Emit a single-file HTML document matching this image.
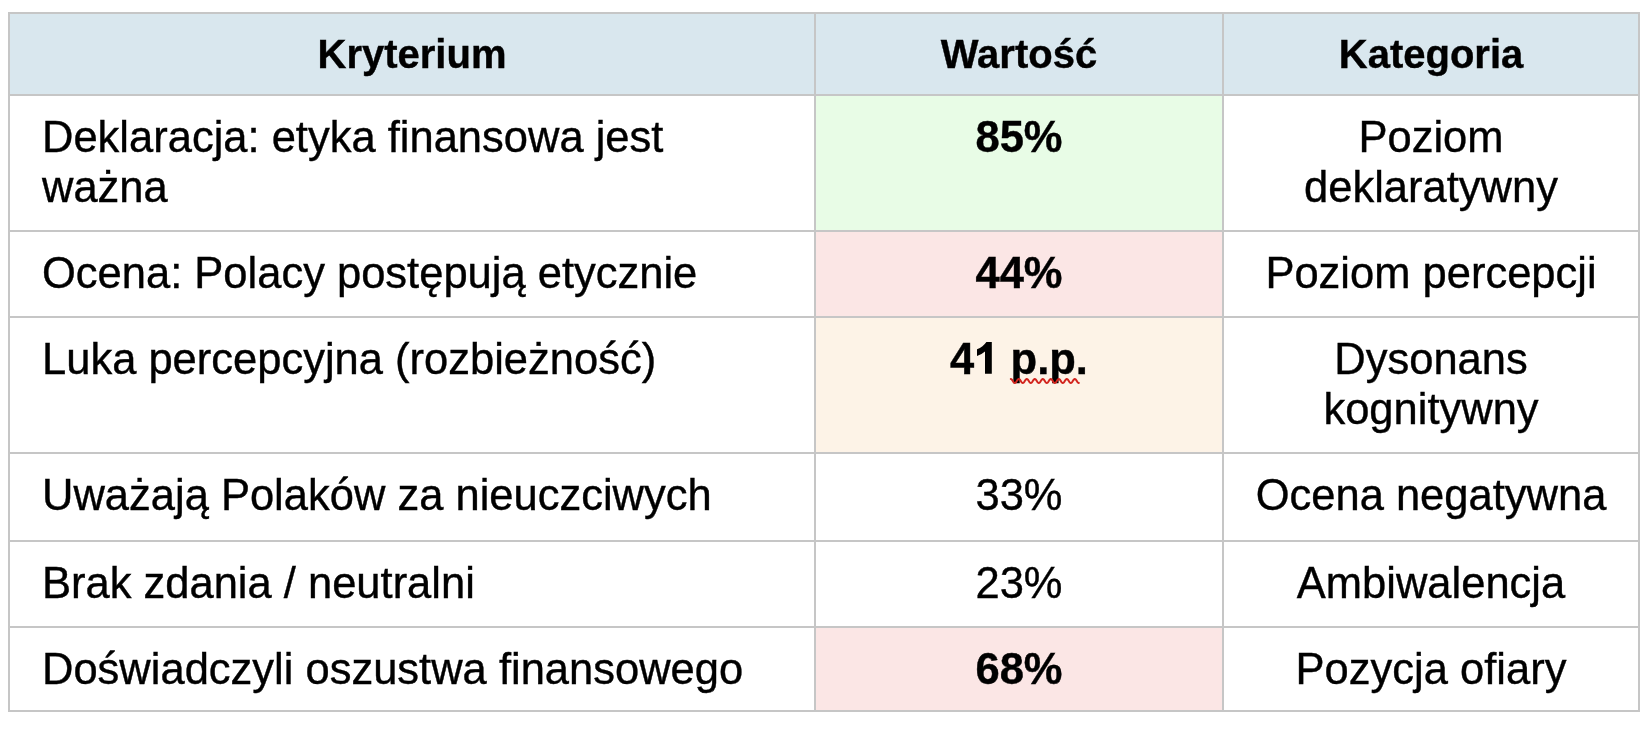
<!DOCTYPE html>
<html><head><meta charset="utf-8"><title>Tabela</title>
<style>
html,body{margin:0;padding:0;background:#fff;}
body{width:1651px;height:732px;position:relative;overflow:hidden;font-family:"Liberation Sans",sans-serif;color:#000;}
.frame{position:absolute;left:8px;top:12px;width:1632px;height:700px;background:#c6c6c6;}
.c{position:absolute;}
.t{position:absolute;white-space:nowrap;will-change:transform;-webkit-text-stroke:0.4px #000;font-size:43.5px;line-height:50px;}
.h{font-size:40px;line-height:46px;font-weight:bold;}
.b{font-weight:bold;}
.ctr{text-align:center;}
.hid{color:transparent;-webkit-text-stroke-color:transparent;}
</style></head><body>
<div class="frame"></div>

<div class="c" style="left:10px;top:14px;width:804px;height:80px;background:#d9e7ee"></div>
<div class="c" style="left:816px;top:14px;width:406px;height:80px;background:#d9e7ee"></div>
<div class="c" style="left:1224px;top:14px;width:414px;height:80px;background:#d9e7ee"></div>
<div class="t h ctr" style="left:10px;width:804px;top:31.0px">Kryterium</div>
<div class="t h ctr" style="left:816px;width:406px;top:31.0px">Wartość</div>
<div class="t h ctr" style="left:1224px;width:414px;top:31.0px">Kategoria</div>
<div class="c" style="left:10px;top:96px;width:804px;height:134px;background:#fff"></div>
<div class="c" style="left:816px;top:96px;width:406px;height:134px;background:#e8fce6"></div>
<div class="c" style="left:1224px;top:96px;width:414px;height:134px;background:#fff"></div>
<div class="t" style="left:42.0px;top:112.0px">Deklaracja: etyka finansowa jest<br>ważna</div>
<div class="t b ctr" style="left:816px;width:406px;top:112.0px">85%</div>
<div class="t ctr" style="left:1224px;width:414px;top:112.0px">Poziom<br>deklaratywny</div>
<div class="c" style="left:10px;top:232px;width:804px;height:84px;background:#fff"></div>
<div class="c" style="left:816px;top:232px;width:406px;height:84px;background:#fbe6e5"></div>
<div class="c" style="left:1224px;top:232px;width:414px;height:84px;background:#fff"></div>
<div class="t" style="left:42.0px;top:248.0px">Ocena: Polacy postępują etycznie</div>
<div class="t b ctr" style="left:816px;width:406px;top:248.0px">44%</div>
<div class="t ctr" style="left:1224px;width:414px;top:248.0px">Poziom percepcji</div>
<div class="c" style="left:10px;top:318px;width:804px;height:134px;background:#fff"></div>
<div class="c" style="left:816px;top:318px;width:406px;height:134px;background:#fdf3e7"></div>
<div class="c" style="left:1224px;top:318px;width:414px;height:134px;background:#fff"></div>
<div class="t" style="left:42.0px;top:334.0px">Luka percepcyjna (rozbieżność)</div>
<div class="t b ctr" style="left:816px;width:406px;top:334.0px">4<span class="hid">1</span> p.p.</div>
<div class="t ctr" style="left:1224px;width:414px;top:334.0px">Dysonans<br>kognitywny</div>
<div class="c" style="left:10px;top:454px;width:804px;height:86px;background:#fff"></div>
<div class="c" style="left:816px;top:454px;width:406px;height:86px;background:#fff"></div>
<div class="c" style="left:1224px;top:454px;width:414px;height:86px;background:#fff"></div>
<div class="t" style="left:42.0px;top:470.0px">Uważają Polaków za nieuczciwych</div>
<div class="t ctr" style="left:816px;width:406px;top:470.0px">33%</div>
<div class="t ctr" style="left:1224px;width:414px;top:470.0px">Ocena negatywna</div>
<div class="c" style="left:10px;top:542px;width:804px;height:84px;background:#fff"></div>
<div class="c" style="left:816px;top:542px;width:406px;height:84px;background:#fff"></div>
<div class="c" style="left:1224px;top:542px;width:414px;height:84px;background:#fff"></div>
<div class="t" style="left:42.0px;top:558.0px">Brak zdania / neutralni</div>
<div class="t ctr" style="left:816px;width:406px;top:558.0px">23%</div>
<div class="t ctr" style="left:1224px;width:414px;top:558.0px">Ambiwalencja</div>
<div class="c" style="left:10px;top:628px;width:804px;height:82px;background:#fff"></div>
<div class="c" style="left:816px;top:628px;width:406px;height:82px;background:#fbe6e5"></div>
<div class="c" style="left:1224px;top:628px;width:414px;height:82px;background:#fff"></div>
<div class="t" style="left:42.0px;top:644.0px">Doświadczyli oszustwa finansowego</div>
<div class="t b ctr" style="left:816px;width:406px;top:644.0px">68%</div>
<div class="t ctr" style="left:1224px;width:414px;top:644.0px">Pozycja ofiary</div>
<svg style="position:absolute;left:0;top:0" width="1651" height="732"><polyline points="1010.8,379.00 1011.3,379.15 1011.8,379.59 1012.3,380.23 1012.8,381.00 1013.3,381.77 1013.8,382.41 1014.3,382.85 1014.8,383.00 1015.3,382.85 1015.8,382.41 1016.3,381.77 1016.8,381.00 1017.3,380.23 1017.8,379.59 1018.3,379.15 1018.8,379.00 1019.3,379.15 1019.8,379.59 1020.3,380.23 1020.8,381.00 1021.3,381.77 1021.8,382.41 1022.3,382.85 1022.8,383.00 1023.3,382.85 1023.8,382.41 1024.3,381.77 1024.8,381.00 1025.3,380.23 1025.8,379.59 1026.3,379.15 1026.8,379.00 1027.3,379.15 1027.8,379.59 1028.3,380.23 1028.8,381.00 1029.3,381.77 1029.8,382.41 1030.3,382.85 1030.8,383.00 1031.3,382.85 1031.8,382.41 1032.3,381.77 1032.8,381.00 1033.3,380.23 1033.8,379.59 1034.3,379.15 1034.8,379.00 1035.3,379.15 1035.8,379.59 1036.3,380.23 1036.8,381.00 1037.3,381.77 1037.8,382.41 1038.3,382.85 1038.8,383.00 1039.3,382.85 1039.8,382.41 1040.3,381.77 1040.8,381.00 1041.3,380.23 1041.8,379.59 1042.3,379.15 1042.8,379.00 1043.3,379.15 1043.8,379.59 1044.3,380.23 1044.8,381.00 1045.3,381.77 1045.8,382.41 1046.3,382.85 1046.8,383.00 1047.3,382.85 1047.8,382.41 1048.3,381.77 1048.8,381.00 1049.3,380.23 1049.8,379.59 1050.3,379.15 1050.8,379.00 1051.3,379.15 1051.8,379.59 1052.3,380.23 1052.8,381.00 1053.3,381.77 1053.8,382.41 1054.3,382.85 1054.8,383.00 1055.3,382.85 1055.8,382.41 1056.3,381.77 1056.8,381.00 1057.3,380.23 1057.8,379.59 1058.3,379.15 1058.8,379.00 1059.3,379.15 1059.8,379.59 1060.3,380.23 1060.8,381.00 1061.3,381.77 1061.8,382.41 1062.3,382.85 1062.8,383.00 1063.3,382.85 1063.8,382.41 1064.3,381.77 1064.8,381.00 1065.3,380.23 1065.8,379.59 1066.3,379.15 1066.8,379.00 1067.3,379.15 1067.8,379.59 1068.3,380.23 1068.8,381.00 1069.3,381.77 1069.8,382.41 1070.3,382.85 1070.8,383.00 1071.3,382.85 1071.8,382.41 1072.3,381.77 1072.8,381.00 1073.3,380.23 1073.8,379.59 1074.3,379.15 1074.8,379.00 1075.3,379.15 1075.8,379.59 1076.3,380.23 1076.8,381.00 1077.3,381.77 1077.8,382.41 1078.3,382.85 1078.8,383.00" fill="none" stroke="#d2231d" stroke-width="2" stroke-linejoin="round" stroke-linecap="round"/></svg>
<svg style="position:absolute;left:0;top:0" width="1651" height="732"><path d="M991.8 341.9 L991.8 373.8 L985 373.8 L985 351.4 Q981.6 354.4 977 355.9 L977 349.3 Q983.2 346.6 986.4 341.9 Z" fill="#000"/></svg>
</body></html>
